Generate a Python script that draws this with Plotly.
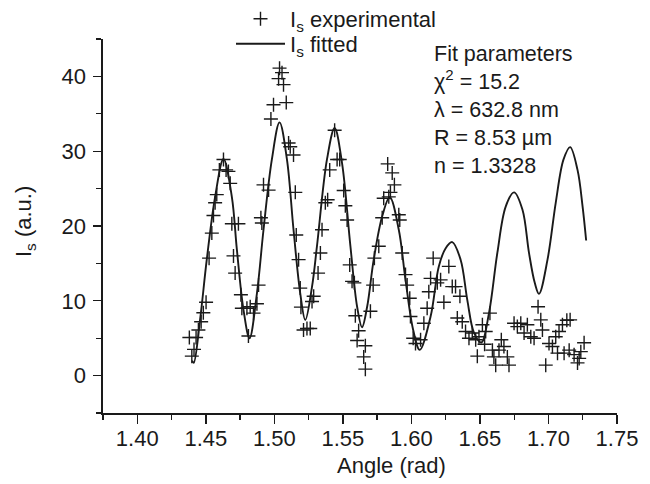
import plotly.graph_objects as go

# Experimental scattering intensity (crosses)
exp_angle = [1.4380, 1.4398, 1.4414, 1.4429, 1.4446, 1.4466, 1.4482, 1.4502, 1.4524, 1.4544,
             1.4556, 1.4568, 1.4580, 1.4599, 1.4629, 1.4648, 1.4665, 1.4678, 1.4690, 1.4702,
             1.4714, 1.4738, 1.4756, 1.4763, 1.4800, 1.4811, 1.4824, 1.4848, 1.4873, 1.4885,
             1.4902, 1.4909, 1.4921, 1.4958, 1.4975, 1.4994, 1.5031, 1.5038, 1.5056, 1.5067,
             1.5087, 1.5104, 1.5116, 1.5140, 1.5153, 1.5160, 1.5177, 1.5189, 1.5194, 1.5213,
             1.5238, 1.5262, 1.5275, 1.5287, 1.5319, 1.5336, 1.5348, 1.5372, 1.5389, 1.5404,
             1.5440, 1.5458, 1.5477, 1.5506, 1.5518, 1.5531, 1.5550, 1.5567, 1.5584, 1.5591,
             1.5604, 1.5615, 1.5652, 1.5664, 1.5664, 1.5701, 1.5721, 1.5730, 1.5762, 1.5787,
             1.5798, 1.5827, 1.5835, 1.5847, 1.5860, 1.5876, 1.5908, 1.5915, 1.5933, 1.5957,
             1.5969, 1.5988, 1.5993, 1.6013, 1.6030, 1.6067, 1.6091, 1.6115, 1.6127, 1.6140,
             1.6159, 1.6189, 1.6213, 1.6237, 1.6273, 1.6298, 1.6322, 1.6335, 1.6354, 1.6371,
             1.6395, 1.6420, 1.6444, 1.6469, 1.6481, 1.6493, 1.6518, 1.6534, 1.6542, 1.6573,
             1.6591, 1.6602, 1.6615, 1.6639, 1.6656, 1.6675, 1.6700, 1.6712, 1.6749, 1.6773,
             1.6798, 1.6822, 1.6846, 1.6871, 1.6895, 1.6924, 1.6944, 1.6956, 1.6980, 1.7004,
             1.7029, 1.7053, 1.7066, 1.7077, 1.7102, 1.7114, 1.7134, 1.7151, 1.7158, 1.7187,
             1.7212, 1.7224, 1.7236, 1.7260]
exp_intensity = [5.1, 2.6, 3.5, 5.1, 6.1, 7.2, 8.4, 9.8, 15.7, 19.05,
                 21.4, 23.1, 24.2, 27.5, 28.9, 27.5, 27.3, 25.7, 20.3, 16.0,
                 13.7, 20.3, 10.8, 9.0, 9.0, 5.3, 9.2, 8.35, 9.6, 12.1,
                 21.1, 20.4, 25.5, 24.8, 34.3, 36.2, 39.7, 41.1, 40.5, 38.9,
                 36.5, 31.1, 30.6, 29.5, 24.5, 18.8, 15.5, 11.7, 9.15, 6.1,
                 6.3, 6.3, 9.9, 10.6, 13.7, 16.4, 19.5, 23.1, 23.5, 27.5,
                 32.8, 28.9, 28.9, 24.75, 22.7, 20.8, 14.8, 12.6, 12.4, 8.0,
                 4.7, 6.0, 2.5, 4.0, 0.86, 8.6, 12.1, 15.7, 17.3, 21.1,
                 23.7, 28.3, 23.9, 24.5, 27.1, 25.5, 21.5, 20.8, 16.4, 13.5,
                 12.1, 10.35, 7.9, 5.0, 4.3, 4.8, 7.0, 9.0, 11.2, 13.0,
                 15.7, 12.4, 12.8, 9.8, 14.6, 11.9, 11.9, 7.7, 10.6, 7.2,
                 5.9, 5.0, 5.7, 4.8, 2.6, 5.2, 6.8, 4.2, 5.9, 8.35,
                 3.4, 2.5, 1.4, 3.4, 4.8, 3.9, 2.5, 1.4, 7.0, 6.55,
                 7.0, 5.7, 6.8, 5.2, 5.0, 9.2, 7.45, 6.1, 1.4, 4.3,
                 3.9, 5.2, 3.0, 5.9, 6.8, 3.0, 7.4, 3.4, 7.45, 2.8,
                 1.7, 2.3, 3.2, 4.4]

# Fitted intensity (solid line)
fit_angle = [1.4400, 1.4412, 1.4458, 1.4507, 1.4568, 1.4629, 1.4690, 1.4727, 1.4775, 1.4819,
             1.4873, 1.4921, 1.4982, 1.5038, 1.5092, 1.5140, 1.5189, 1.5226, 1.5275, 1.5311,
             1.5384, 1.5440, 1.5494, 1.5555, 1.5604, 1.5640, 1.5677, 1.5725, 1.5787, 1.5842,
             1.5908, 1.5957, 1.6013, 1.6061, 1.6140, 1.6200, 1.6249, 1.6298, 1.6359, 1.6408,
             1.6457, 1.6510, 1.6566, 1.6627, 1.6688, 1.6749, 1.6810, 1.6858, 1.6900, 1.6931,
             1.6993, 1.7053, 1.7110, 1.7158, 1.7212, 1.7249, 1.7275]
fit_intensity = [2.0, 1.7, 7.45, 15.5, 23.9, 28.95, 23.9, 16.8, 8.8, 5.0,
                 11.0, 19.5, 28.9, 33.85, 28.9, 19.5, 11.0, 7.45, 11.9, 17.3,
                 28.9, 33.1, 28.4, 17.3, 9.2, 6.47, 9.2, 15.5, 21.3, 23.86,
                 19.5, 12.8, 6.1, 3.44, 7.9, 14.6, 17.0, 17.85, 15.5, 10.1,
                 5.7, 4.42, 8.35, 16.4, 22.6, 24.5, 22.2, 16.4, 12.4, 10.93,
                 15.5, 23.1, 28.9, 30.55, 27.5, 22.6, 18.06]

x_tick_vals = [1.40, 1.45, 1.50, 1.55, 1.60, 1.65, 1.70, 1.75]
x_tick_text = ["1.40", "1.45", "1.50", "1.55", "1.60", "1.65", "1.70", "1.75"]
y_tick_vals = [0, 10, 20, 30, 40]

fit_params = ["Fit parameters", "χ<sup>2</sup> = 15.2", "λ = 632.8 nm",
              "R = 8.53 µm", "n = 1.3328"]

FONT = "Liberation Sans, Arial, Helvetica, sans-serif"
INK = "#1a1a1a"
FS = 22

fig = go.Figure()
fig.add_trace(go.Scatter(
    x=exp_angle, y=exp_intensity, mode="markers",
    name="I<sub>s</sub> experimental",
    marker=dict(symbol="cross-thin", size=10, color=INK,
                line=dict(color=INK, width=1.4)),
    legend="legend",
))
fig.add_trace(go.Scatter(
    x=fit_angle, y=fit_intensity, mode="lines",
    name="I<sub>s</sub> fitted",
    line=dict(color=INK, width=1.9, shape="spline", smoothing=1.0),
    legend="legend2",
))

W, H = 650, 484
ML, MR, MT, MB = 103, 33, 39, 71
PW, PH = W - ML - MR, H - MT - MB


def px_x(p):
    return (p - ML) / PW


def px_y(p):
    return (H - MB - p) / PH


legend_common = dict(font=dict(family=FONT, size=FS, color=INK),
                     bgcolor="rgba(0,0,0,0)", borderwidth=0,
                     itemwidth=49, xanchor="left", yanchor="middle",
                     itemclick=False)

fig.update_layout(
    width=W, height=H, autosize=False,
    margin=dict(l=ML, r=MR, t=MT, b=MB, autoexpand=False),
    paper_bgcolor="white", plot_bgcolor="white",
    font=dict(family=FONT, size=FS, color=INK),
    showlegend=True,
    legend=dict(x=px_x(231), y=px_y(19), **legend_common),
    legend2=dict(x=px_x(231), y=px_y(44), **legend_common),
    xaxis=dict(
        range=[1.375, 1.75], showgrid=False, zeroline=False,
        showline=True, linecolor=INK, linewidth=1.6,
        ticks="outside", ticklen=9, tickwidth=1.4, tickcolor=INK,
        tickvals=x_tick_vals, ticktext=x_tick_text,
        tickfont=dict(family=FONT, size=FS, color=INK),
        ticklabelstandoff=-4,
        minor=dict(dtick=0.025, tick0=1.375, ticks="outside", ticklen=5,
                   tickwidth=1.3, tickcolor=INK, showgrid=False),
    ),
    yaxis=dict(
        range=[-5, 45], showgrid=False, zeroline=False,
        showline=True, linecolor=INK, linewidth=1.6,
        ticks="outside", ticklen=8, tickwidth=1.4, tickcolor=INK,
        tickvals=y_tick_vals,
        tickfont=dict(family=FONT, size=FS, color=INK),
        ticklabelstandoff=3,
        minor=dict(dtick=5, tick0=-5, ticks="outside", ticklen=5,
                   tickwidth=1.3, tickcolor=INK, showgrid=False),
    ),
    annotations=[
        dict(text="<br>".join(fit_params), xref="paper", yref="paper",
             x=px_x(432), y=px_y(110), xanchor="left", yanchor="middle",
             align="left", showarrow=False,
             font=dict(family=FONT, size=21.5, color=INK)),
        dict(text="Angle (rad)", xref="paper", yref="paper",
             x=px_x(391), y=px_y(466), xanchor="center", yanchor="middle",
             showarrow=False, font=dict(family=FONT, size=FS, color=INK)),
        dict(text="I<sub>s</sub> (a.u.)", xref="paper", yref="paper",
             x=px_x(25), y=px_y(222), xanchor="center", yanchor="middle",
             textangle=-90, showarrow=False,
             font=dict(family=FONT, size=FS, color=INK)),
    ],
)

fig.write_html("out.html",
               config={"displayModeBar": False, "staticPlot": True},
               post_script="document.body.style.margin='0px';"
                           "document.body.style.overflow='hidden';")
